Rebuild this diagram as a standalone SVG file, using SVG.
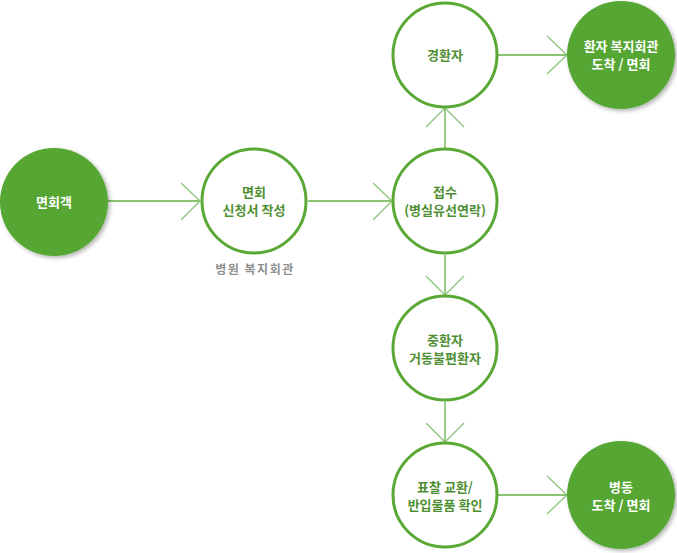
<svg xmlns="http://www.w3.org/2000/svg" width="677" height="553" viewBox="0 0 677 553">
<defs>
<filter id="sh" x="-20%" y="-20%" width="150%" height="150%">
<feDropShadow dx="2" dy="2" stdDeviation="2" flood-color="#000" flood-opacity="0.3"/>
</filter>
</defs>
<style>
.fill{fill:#55a632;filter:url(#sh);}
.ring{fill:#fff;stroke:#5aa836;stroke-width:3;}
.line{stroke:#62b044;stroke-width:1.3;fill:none;}
.head{stroke:#8cc47a;stroke-width:1.3;fill:none;}
text{font-family:"Noto Sans CJK KR","Noto Sans",sans-serif;font-size:13px;font-weight:bold;text-anchor:middle;}
.w{fill:#fff;}
.g{fill:#4f8f33;}
.note{fill:#8f8f8f;font-size:12px;letter-spacing:1.5px;}
</style>
<rect width="677" height="553" fill="#fff"/>
<g id="connectors">
<line class="line" x1="108" y1="201" x2="200" y2="201"/>
<polyline class="head" points="181,183 200,201 181,220"/>
<line class="line" x1="308" y1="201" x2="392" y2="201"/>
<polyline class="head" points="373,183 392,201 373,220"/>
<line class="line" x1="445" y1="148" x2="445" y2="108"/>
<polyline class="head" points="426,127 445,108 464,127"/>
<line class="line" x1="498" y1="55" x2="567" y2="55"/>
<polyline class="head" points="547,36 567,55 547,74"/>
<line class="line" x1="445" y1="255" x2="445" y2="295"/>
<polyline class="head" points="426,276 445,295 464,276"/>
<line class="line" x1="445" y1="402" x2="445" y2="442"/>
<polyline class="head" points="426,423 445,442 464,423"/>
<line class="line" x1="498" y1="495" x2="567" y2="495"/>
<polyline class="head" points="547,476 567,495 547,514"/>
</g>
<g id="n-visitor">
<circle class="fill" cx="54" cy="202" r="54"/>
<text class="w" x="54" y="207">면회객</text>
</g>
<g id="n-apply">
<circle class="ring" cx="254" cy="201" r="52"/>
<text class="g" x="254" y="197">면회</text>
<text class="g" x="254" y="215">신청서 작성</text>
<text class="note" x="255" y="274">병원 복지회관</text>
</g>
<g id="n-receive">
<circle class="ring" cx="445" cy="201" r="52"/>
<text class="g" x="445" y="197">접수</text>
<text class="g" x="445" y="215">(병실유선연락)</text>
</g>
<g id="n-light">
<circle class="ring" cx="445" cy="55" r="52"/>
<text class="g" x="445" y="60">경환자</text>
</g>
<g id="n-welfare">
<circle class="fill" cx="621" cy="55" r="54"/>
<text class="w" x="621" y="51">환자 복지회관</text>
<text class="w" x="621" y="69">도착 / 면회</text>
</g>
<g id="n-severe">
<circle class="ring" cx="445" cy="348" r="52"/>
<text class="g" x="445" y="345">중환자</text>
<text class="g" x="445" y="363">거동불편환자</text>
</g>
<g id="n-tag">
<circle class="ring" cx="445" cy="495" r="52"/>
<text class="g" x="445" y="492">표찰 교환/</text>
<text class="g" x="445" y="510">반입물품 확인</text>
</g>
<g id="n-ward">
<circle class="fill" cx="621" cy="495" r="54"/>
<text class="w" x="621" y="492">병동</text>
<text class="w" x="621" y="510">도착 / 면회</text>
</g>
</svg>
